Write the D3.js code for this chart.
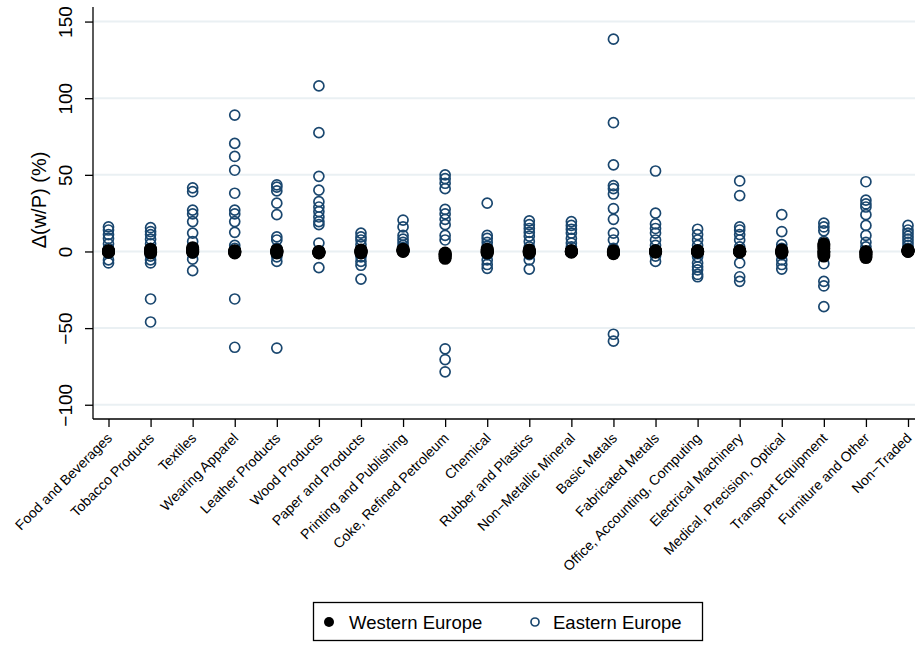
<!DOCTYPE html>
<html>
<head>
<meta charset="utf-8">
<script src="https://cdn.jsdelivr.net/npm/d3@7"></script>
<style>
  html, body { margin: 0; padding: 0; background: #fff; }
  svg { display: block; font-family: Helvetica, Arial, "Liberation Sans", sans-serif; }
</style>
</head>
<body>
<svg id="chart" width="915" height="646"></svg>
<script>
// ---------------- DATA ----------------
const categories = [
  "Food and Beverages", "Tobacco Products", "Textiles", "Wearing Apparel",
  "Leather Products", "Wood Products", "Paper and Products", "Printing and Publishing",
  "Coke, Refined Petroleum", "Chemical", "Rubber and Plastics", "Non\u2212Metallic Mineral",
  "Basic Metals", "Fabricated Metals", "Office, Accounting, Computing", "Electrical Machinery",
  "Medical, Precision, Optical", "Transport Equipment", "Furniture and Other", "Non\u2212Traded"
];

const eastValues = [
  [16, 14, 11, 8.5, 5, 2, -1, -5.5, -7.5],
  [15.5, 13, 11, 8, 5, 2, -3, -5.5, -7.5, -31, -46],
  [41.5, 39, 27, 24.5, 19.5, 12, 6.5, 2, -1, -5, -12.5],
  [89, 70.5, 62, 53, 38, 27, 24.5, 19.5, 12.5, 4, 2, -31, -62.5],
  [43.5, 42, 39.5, 31.5, 24, 9.5, 7.5, 2, -3.5, -6.5, -63],
  [108, 77.5, 49, 40, 32.5, 29, 26, 22.5, 19.5, 17.5, 5.5, -10.5],
  [12, 9.5, 7.5, 4.5, 1, -1, -3.5, -6.5, -9, -18],
  [20.5, 16, 10.5, 8, 6, 4, 2.5, 1],
  [50, 47.5, 44.5, 41, 27.5, 24.5, 21, 17.5, 10.5, 7.5, -63.5, -70.5, -78.5],
  [31.5, 10.5, 8.5, 6, 3.5, 1, -2, -5.5, -8.5, -11],
  [20, 17.5, 15, 12.5, 10, 6.5, 3, 1, -2, -5.5, -11.5],
  [19.5, 17, 14.5, 12, 8.5, 5.5, 3, 1],
  [138.5, 84, 56.5, 43, 41, 37.5, 28, 21, 12, 7.5, 2, -54, -58.5],
  [52.5, 25, 18, 15, 12, 7.5, 4, 1, -3, -6.5],
  [14.5, 11, 7.5, 4, 1, -1.5, -3.5, -7.5, -10, -12, -15, -16.5],
  [46, 36.5, 16, 14, 11, 7.5, 3, 0.5, -7.5, -16.5, -19.5],
  [24, 13, 4.5, 2, 0.5, -2, -5.5, -8.5, -11.5],
  [18.5, 16, 13.5, 6.5, 2, -2, -8, -19.5, -22.5, -36],
  [45.5, 33.5, 31, 29, 24, 17, 10.5, 6, 3],
  [17, 14, 12, 10, 8, 6, 4, 2]
];

const westValues = [
  [-0.5, 0, 0.3, 0.5, -0.2, 0.1],
  [-1, 0, 0.5, 1.5, -0.5, 1],
  [-0.5, 0.5, 1, 2.5, 1.5, 0],
  [-1, -0.5, 0, 0.5, -0.3, 0.2],
  [-1, -0.5, 0, 0.5, 1, 0.2],
  [-1, -0.5, 0, -0.2, -0.8, -0.4],
  [-1, -0.5, 0, 0.5, 1, 0.3],
  [0, 0.5, 1, 1.5, 0.3, 0.8],
  [-1, -2, -3, -4.5, -1.5, -3.5],
  [-1, 0, 0.5, 1.5, -0.5, 1],
  [-1, -0.5, 0, 0.5, 1, 0.2],
  [-0.5, 0, 0.5, 0.2, -0.2, 0.1],
  [-1.5, -1, -0.5, 0, 0.5, -0.2],
  [-0.5, 0, 0.5, 0.2, -0.2, 0.1],
  [-0.5, 0, 0.5, 0.2, -0.2, 0.1],
  [-0.5, 0, 0.5, 0.2, -0.2, 0.1],
  [-1, -0.5, 0, 0.5, 1, -0.2],
  [-3, -1, 0, 2, 3.5, 5],
  [-4, -3, -2, -1, 0, -0.5],
  [0, 0.3, 0.6, 1, 0.2, 0.8]
];

const yTicks = [-100, -50, 0, 50, 100, 150];
const yTitle = "\u0394(w/P) (%)";
const seriesNames = ["Western Europe", "Eastern Europe"];

// ---------------- LAYOUT ----------------
const svg = d3.select("#chart");
const plotLeft = 93, plotRight = 914, plotTop = 7, plotBottom = 419;
const navy = "#1a476f";
const font = 'Helvetica, Arial, "Liberation Sans", sans-serif';

const x = d3.scalePoint()
  .domain(categories)
  .range([108.5, 908]);

const y = d3.scaleLinear()
  .domain([-109.3, 159.5])
  .range([plotBottom, plotTop]);

// gridlines
svg.append("g")
  .selectAll("line")
  .data(yTicks)
  .join("line")
  .attr("x1", plotLeft + 1)
  .attr("x2", plotRight + 1)
  .attr("y1", d => y(d))
  .attr("y2", d => y(d))
  .attr("stroke", "#eaf0f3")
  .attr("stroke-width", 2);

// Eastern Europe (hollow)
const eastPts = [];
eastValues.forEach((vals, i) => vals.forEach(v => eastPts.push({ c: categories[i], v })));
svg.append("g")
  .selectAll("circle")
  .data(eastPts)
  .join("circle")
  .attr("cx", d => x(d.c))
  .attr("cy", d => y(d.v))
  .attr("r", 5)
  .attr("fill", "none")
  .attr("stroke", navy)
  .attr("stroke-width", 1.7);

// Western Europe (filled)
const westPts = [];
westValues.forEach((vals, i) => vals.forEach(v => westPts.push({ c: categories[i], v })));
svg.append("g")
  .selectAll("circle")
  .data(westPts)
  .join("circle")
  .attr("cx", d => x(d.c))
  .attr("cy", d => y(d.v))
  .attr("r", 6.5)
  .attr("fill", "#000");

// Y axis
const yAxis = d3.axisLeft(y).tickValues(yTicks).tickSize(8).tickPadding(4)
  .tickFormat(d => d < 0 ? "\u2212" + Math.abs(d) : String(d));
const gy = svg.append("g").attr("transform", `translate(${plotLeft},0)`).call(yAxis);
gy.select(".domain").attr("d", `M0,${plotTop}V${plotBottom}`).attr("stroke", "#000").attr("stroke-width", 1.3);
gy.selectAll(".tick line").attr("stroke", "#000").attr("stroke-width", 1.3);
gy.selectAll(".tick text")
  .attr("x", null).attr("dy", null)
  .attr("text-anchor", "middle")
  .attr("transform", "translate(-21,0) rotate(-90)")
  .attr("font-family", font)
  .attr("font-size", 19)
  .attr("fill", "#000");

// X axis
const xAxis = d3.axisBottom(x).tickSize(8).tickPadding(4);
const gx = svg.append("g").attr("transform", `translate(0,${plotBottom})`).call(xAxis);
gx.select(".domain").attr("d", `M${plotLeft},0H${plotRight + 1}`).attr("stroke", "#000").attr("stroke-width", 1.3);
gx.selectAll(".tick line").attr("stroke", "#000").attr("stroke-width", 1.3);
gx.selectAll(".tick text")
  .attr("y", null).attr("dy", null)
  .attr("text-anchor", "end")
  .attr("transform", "translate(4,20) rotate(-45)")
  .attr("font-family", font)
  .attr("font-size", 14)
  .attr("fill", "#000");

// Y title
svg.append("text")
  .attr("transform", "translate(46,200) rotate(-90)")
  .attr("text-anchor", "middle")
  .attr("font-family", font)
  .attr("font-size", 20)
  .attr("fill", "#000")
  .text(yTitle);

// Legend
const lg = svg.append("g");
lg.append("rect")
  .attr("x", 313.5).attr("y", 602.5)
  .attr("width", 389).attr("height", 38)
  .attr("fill", "#fff").attr("stroke", "#000").attr("stroke-width", 1.3);
lg.append("circle").attr("cx", 329).attr("cy", 622).attr("r", 5).attr("fill", "#000");
lg.append("text").attr("x", 349).attr("y", 628.5)
  .attr("font-family", font).attr("font-size", 18.5).attr("fill", "#000").text(seriesNames[0]);
lg.append("circle").attr("cx", 535).attr("cy", 622).attr("r", 4)
  .attr("fill", "none").attr("stroke", navy).attr("stroke-width", 1.7);
lg.append("text").attr("x", 553).attr("y", 628.5)
  .attr("font-family", font).attr("font-size", 18.5).attr("fill", "#000").text(seriesNames[1]);
</script>
</body>
</html>
